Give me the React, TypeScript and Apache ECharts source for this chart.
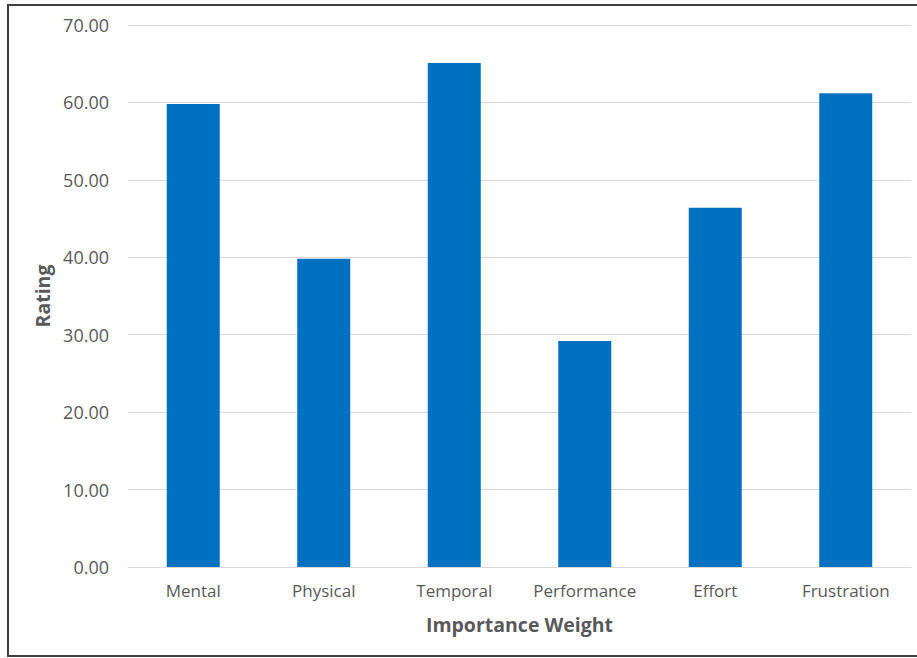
import React, { useEffect, useRef } from "react";
import * as echarts from "echarts";

const categories = ["Mental", "Physical", "Temporal", "Performance", "Effort", "Frustration"];
const ratings = [59.8, 39.8, 65.1, 29.2, 46.4, 61.2];
const yAxisTitle = "Rating";
const xAxisTitle = "Importance Weight";

export default function App() {
  const ref = useRef<HTMLDivElement>(null);
  useEffect(() => {
    if (!ref.current) return;
    const chart = echarts.init(ref.current, undefined, { renderer: "svg" });
    const font = "'Open Sans', 'Noto Sans', sans-serif";
    chart.setOption({
      animation: false,
      backgroundColor: "#ffffff",
      textStyle: { fontFamily: font },
      graphic: [
        {
          type: "rect",
          shape: { x: 8, y: 5, width: 920, height: 651 },
          style: { fill: "none", stroke: "#3f3f3f", lineWidth: 2 },
          silent: true,
          z: 100,
        },
      ],
      grid: { left: 128, right: 6, top: 25, bottom: 91 },
      xAxis: {
        type: "category",
        data: categories,
        name: xAxisTitle,
        nameLocation: "middle",
        nameGap: 47,
        nameTextStyle: { fontFamily: font, fontSize: 19.5, fontWeight: "bold", color: "#595959" },
        axisLine: { show: true, lineStyle: { color: "#d9d9d9", width: 1 } },
        axisTick: { show: false },
        axisLabel: { interval: 0, fontFamily: font, fontSize: 17, color: "#595959", margin: 15 },
      },
      yAxis: {
        type: "value",
        min: 0,
        max: 70,
        interval: 10,
        name: yAxisTitle,
        nameLocation: "middle",
        nameGap: 73,
        nameRotate: 90,
        nameTextStyle: { fontFamily: font, fontSize: 19.5, fontWeight: "bold", color: "#595959" },
        axisLine: { show: false },
        axisTick: { show: false },
        axisLabel: {
          fontFamily: font,
          fontSize: 18,
          color: "#595959",
          margin: 19,
          formatter: (v: number) => v.toFixed(2),
        },
        splitLine: { lineStyle: { color: "#d9d9d9", width: 1 } },
      },
      series: [
        {
          type: "bar",
          data: ratings,
          barWidth: 53,
          itemStyle: { color: "#0070c0" },
        },
      ],
    });
    return () => chart.dispose();
  }, []);
  return (
    <div
      ref={ref}
      style={{ position: "absolute", left: 0, top: 0, width: 917, height: 658 }}
    />
  );
}
